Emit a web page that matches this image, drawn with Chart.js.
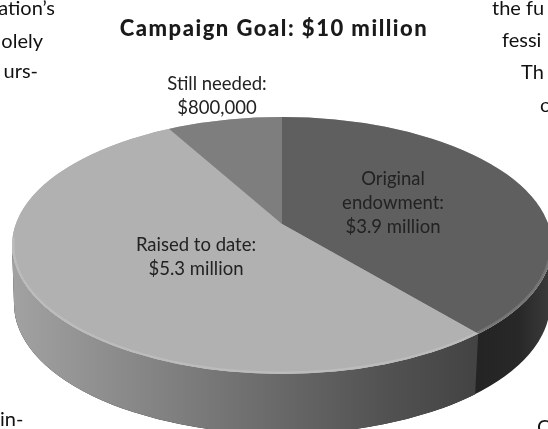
<!DOCTYPE html>
<html>
<head>
<meta charset="utf-8">
<style>
  html, body { margin: 0; padding: 0; background: #fff; overflow: hidden; }
  canvas { display: block; }
</style>
<script src="https://cdn.jsdelivr.net/npm/chart.js@4"></script>
</head>
<body>
<canvas id="campaign" width="548" height="429"></canvas>
<script>
// Campaign funding, in millions of dollars
const categories = ['Original endowment:', 'Raised to date:', 'Still needed:'];
const amounts = [3.9, 5.3, 0.8];
const sliceColors = ['#5f5f5f', '#b1b1b1', '#7e7e7e'];
const titleText = 'Campaign Goal: $10 million';

// Running copy of the surrounding article, cut off by the frame
const articleLeft = ['ation\u2019s', 'olely', 'urs-'];
const articleRight = ['the fu', 'fessi', 'Th', 'c'];

// Tilted-disc geometry
const hub = { x: 282, y: 224 };          // where the slices meet
const rim = { x: 282, y: 245.5, rx: 270, ry: 128.5 };   // upper face outline
const base = { x: 282, y: 304, rx: 268, ry: 130 };      // lower wall outline
const tilt = 0.463;
const reach = 420;

function moneyLabel(v) {
  return v >= 1 ? '$' + v.toFixed(1) + ' million'
                : '$' + Math.round(v * 1e6).toLocaleString('en-US');
}

// Point where a slice boundary leaves the upper face
function rimPoint(angle) {
  const dx = Math.cos(angle), dy = Math.sin(angle) * tilt;
  const ox = hub.x - rim.x, oy = hub.y - rim.y;
  const a = dx * dx / (rim.rx * rim.rx) + dy * dy / (rim.ry * rim.ry);
  const b = 2 * (ox * dx / (rim.rx * rim.rx) + oy * dy / (rim.ry * rim.ry));
  const c = ox * ox / (rim.rx * rim.rx) + oy * oy / (rim.ry * rim.ry) - 1;
  const t = (-b + Math.sqrt(b * b - 4 * a * c)) / (2 * a);
  return { x: hub.x + dx * t, y: hub.y + dy * t };
}

function wallPath(ctx) {
  ctx.beginPath();
  ctx.ellipse(rim.x, rim.y, rim.rx, rim.ry, 0, Math.PI, 0, true);
  ctx.lineTo(base.x + base.rx, base.y);
  ctx.ellipse(base.x, base.y, base.rx, base.ry, 0, 0, Math.PI, false);
  ctx.closePath();
}

function xGradient(ctx, x0, x1, stops) {
  const g = ctx.createLinearGradient(x0, 0, x1, 0);
  stops.forEach(([p, c]) => g.addColorStop(p, c));
  return g;
}

const tiltedDisc = {
  id: 'tiltedDisc',
  beforeDraw(chart) {
    // Wider tracking for the heading
    chart.ctx.letterSpacing = '1.5px';
  },
  beforeDatasetDraw(chart, args) {
    const ctx = chart.ctx;
    ctx.letterSpacing = '0px';
    const first = args.meta.data[0];
    const split = rimPoint(first.endAngle);

    // Wall of the disc, darker slice first, then the lighter one up to the seam
    wallPath(ctx);
    ctx.fillStyle = xGradient(ctx, 470, 552, [[0, '#232323'], [0.6, '#282828'], [1, '#3c3c3c']]);
    ctx.fill();
    ctx.save();
    ctx.beginPath();
    ctx.moveTo(0, 0);
    ctx.lineTo(split.x, 0);
    ctx.lineTo(split.x, split.y);
    ctx.lineTo(split.x - 3, split.y + 60);
    ctx.lineTo(split.x - 3, 429);
    ctx.lineTo(0, 429);
    ctx.closePath();
    ctx.clip();
    wallPath(ctx);
    ctx.fillStyle = xGradient(ctx, 12, split.x, [
      [0, '#a2a2a2'], [0.2, '#8e8e8e'], [0.55, '#6b6b6b'], [0.8, '#525252'], [1, '#434343']
    ]);
    ctx.fill();
    ctx.restore();

    // Upper face: slices are oversized, squashed and cut to the rim outline
    ctx.save();
    ctx.beginPath();
    ctx.ellipse(rim.x, rim.y, rim.rx, rim.ry, 0, 0, Math.PI * 2);
    ctx.fillStyle = sliceColors[1];
    ctx.fill();
    ctx.clip();
    const s = reach / first.outerRadius;
    ctx.translate(hub.x, hub.y);
    ctx.scale(s, s * tilt);
    ctx.translate(-first.x, -first.y);
  },
  afterDatasetDraw(chart) {
    const ctx = chart.ctx;
    ctx.restore();

    // Soft bevel along the front of the rim
    ctx.save();
    ctx.beginPath();
    ctx.ellipse(rim.x, rim.y, rim.rx, rim.ry, 0, 0, Math.PI * 2);
    ctx.clip();
    ctx.lineWidth = 3;
    ctx.strokeStyle = 'rgba(255,255,255,0.14)';
    ctx.beginPath();
    ctx.ellipse(rim.x, rim.y, rim.rx - 1, rim.ry - 1, 0, Math.PI * 1.02, -0.02, true);
    ctx.stroke();
    ctx.restore();
  },
  afterDraw(chart) {
    const ctx = chart.ctx;
    ctx.save();
    ctx.textBaseline = 'alphabetic';

    // Slice captions
    ctx.fillStyle = '#222';
    ctx.font = '18.5px Lato';
    ctx.textAlign = 'center';
    const put = (lines, x, y) => lines.forEach((t, i) => ctx.fillText(t, x, y + i * 24));
    put(['Original', 'endowment:', moneyLabel(amounts[0])], 393, 185);
    put([categories[1], moneyLabel(amounts[1])], 196, 251);
    put([categories[2], moneyLabel(amounts[2])], 217, 90);

    // Neighbouring article text
    ctx.fillStyle = '#111';
    ctx.font = '20px Lato';
    ctx.textAlign = 'right';
    [[15, 55], [48, 43], [78, 38]].forEach(([y, x], i) => ctx.fillText(articleLeft[i], x, y));
    ctx.textAlign = 'left';
    [492, 502, 521, 540].forEach((x, i) => ctx.fillText(articleRight[i], x, [15, 47, 79, 112][i]));
    ctx.fillText('in-', 0, 426);
    ctx.fillText('C', 537, 434);
    ctx.restore();
  }
};

new Chart(document.getElementById('campaign'), {
  type: 'pie',
  data: {
    labels: categories,
    datasets: [{
      data: amounts,
      backgroundColor: sliceColors,
      borderWidth: 0,
      clip: false
    }]
  },
  options: {
    responsive: false,
    animation: false,
    events: [],
    plugins: {
      legend: { display: false },
      tooltip: { enabled: false },
      title: {
        display: true,
        text: titleText,
        color: '#1a1a1a',
        font: { family: 'Lato', size: 22, weight: '900' },
        padding: { top: 16, bottom: 9 }
      }
    }
  },
  plugins: [tiltedDisc]
});
</script>
</body>
</html>
